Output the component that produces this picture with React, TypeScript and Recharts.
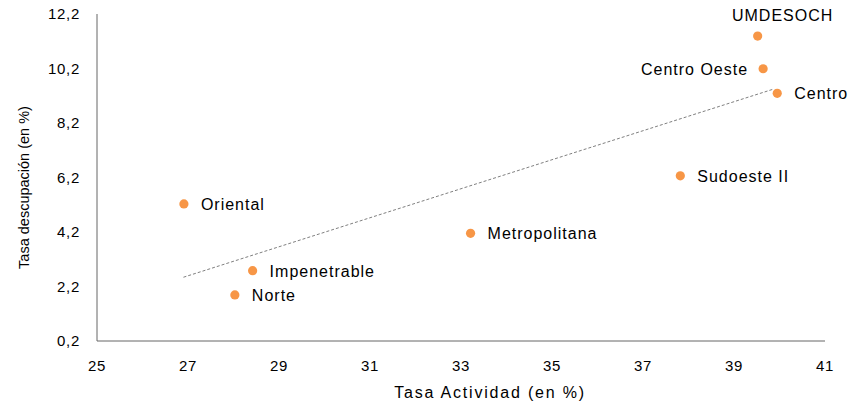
import React from 'react';
import { ScatterChart, Scatter, XAxis, YAxis, ReferenceLine, Label } from 'recharts';

// regions: activity rate (x) vs unemployment rate (y)
const REGIONS = ['UMDESOCH', 'Centro Oeste', 'Centro', 'Sudoeste II', 'Oriental', 'Metropolitana', 'Impenetrable', 'Norte'];
const ACTIVIDAD = [39.52, 39.64, 39.95, 37.82, 26.91, 33.21, 28.42, 28.03];
const DESOCUPACION = [11.39, 10.19, 9.29, 6.26, 5.23, 4.15, 2.78, 1.89];

// linear trend line end points
const TREND_X = [26.9, 39.88];
const TREND_Y = [2.54, 9.45];

const X_TICKS = [25, 27, 29, 31, 33, 35, 37, 39, 41];
const Y_TICKS = [0.2, 2.2, 4.2, 6.2, 8.2, 10.2, 12.2];

const ORANGE = '#F79646';
const AXIS = '#666666';
const FONT = '"Liberation Sans", Arial, sans-serif';

const points = REGIONS.map((name, i) => ({ name, x: ACTIVIDAD[i], y: DESOCUPACION[i] }));

// where each label sits relative to its point (default: right)
const LABEL_SIDE: Record<string, string> = {
  UMDESOCH: 'top',
  'Centro Oeste': 'left',
};

const PointShape = (props: any) => {
  const { cx, cy, payload } = props;
  const side = LABEL_SIDE[payload.name] || 'right';
  let tx = cx + 17;
  let ty = cy + 6;
  let anchor: 'start' | 'middle' | 'end' = 'start';
  if (side === 'left') {
    tx = cx - 15;
    anchor = 'end';
  } else if (side === 'top') {
    tx = cx + 25;
    ty = cy - 15;
    anchor = 'middle';
  }
  return (
    <g>
      <circle cx={cx} cy={cy} r={4.6} fill={ORANGE} />
      <text x={tx} y={ty} textAnchor={anchor} fontSize={16} letterSpacing={1} fill="#000" fontFamily={FONT}>
        {payload.name}
      </text>
    </g>
  );
};

const YTitle = (props: any) => {
  const { viewBox } = props;
  const cx = 24;
  const cy = viewBox.y + viewBox.height / 2 + 10;
  return (
    <text x={cx} y={cy} transform={`rotate(-90, ${cx}, ${cy})`} textAnchor="middle" dominantBaseline="central" fontSize={14.5} fill="#000" fontFamily={FONT}>
      Tasa descupación (en %)
    </text>
  );
};

const XTitle = (props: any) => {
  const { viewBox } = props;
  const cx = viewBox.x + viewBox.width / 2 + 29;
  return (
    <text x={cx} y={398} textAnchor="middle" fontSize={16} letterSpacing={1.8} fill="#000" fontFamily={FONT}>
      Tasa Actividad (en %)
    </text>
  );
};

export default function App() {
  const tick = { fontSize: 15, fill: '#000', fontFamily: FONT, letterSpacing: 0.7 };
  return (
    <div style={{ position: 'absolute', left: 0, top: 0, width: 854, height: 408, background: '#fff' }}>
      <ScatterChart width={854} height={408} margin={{ top: 14, right: 29, bottom: 0, left: 0 }}>
        <XAxis
          type="number"
          dataKey="x"
          domain={[25, 41]}
          ticks={X_TICKS}
          interval={0}
          tickLine={false}
          tickSize={6}
          tickMargin={13}
          height={67}
          stroke={AXIS}
          tick={tick}
        >
          <Label content={<XTitle />} />
        </XAxis>
        <YAxis
          type="number"
          dataKey="y"
          domain={[0.2, 12.2]}
          ticks={Y_TICKS}
          interval={0}
          tickLine={false}
          tickSize={6}
          tickMargin={11}
          width={97}
          stroke={AXIS}
          tick={tick}
          tickFormatter={(v: number) => v.toFixed(1).replace('.', ',')}
        >
          <Label content={<YTitle />} />
        </YAxis>
        <ReferenceLine
          segment={[
            { x: TREND_X[0], y: TREND_Y[0] },
            { x: TREND_X[1], y: TREND_Y[1] },
          ]}
          stroke="#808080"
          strokeWidth={1}
          strokeDasharray="3 2"
        />
        <Scatter data={points} shape={<PointShape />} isAnimationActive={false} />
      </ScatterChart>
    </div>
  );
}
